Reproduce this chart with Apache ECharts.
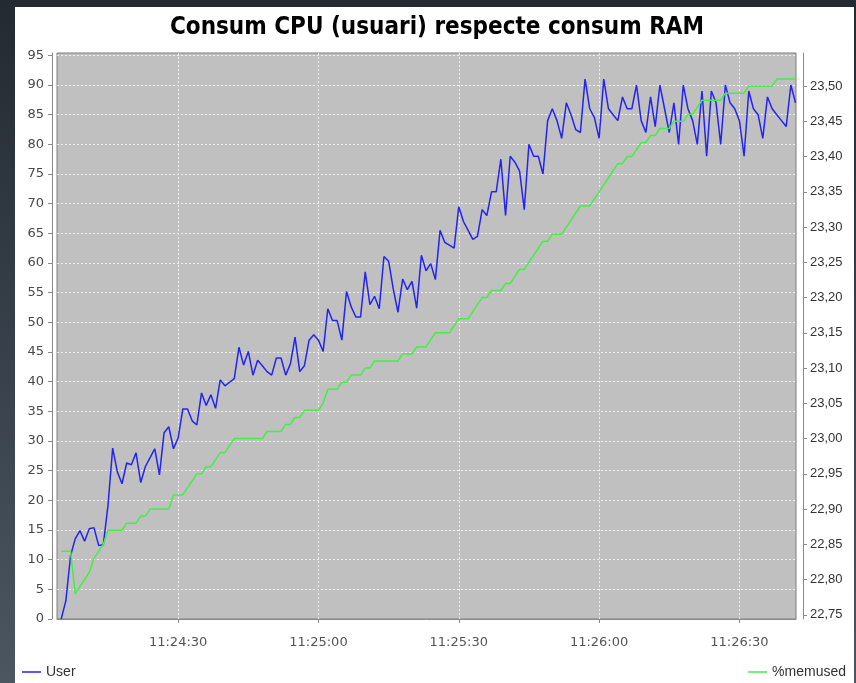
<!DOCTYPE html>
<html>
<head>
<meta charset="utf-8">
<script src="https://cdn.jsdelivr.net/npm/echarts@6/dist/echarts.min.js"></script>
<style>
  html, body { margin: 0; padding: 0; }
  body {
    width: 856px; height: 683px; overflow: hidden; position: relative;
    background: linear-gradient(to bottom, #232a32, #4b5661);
  }
  #panel { position: absolute; left: 15px; top: 7px; width: 839px; height: 676px; background: #fff; }
  #chart { position: absolute; left: 0; top: 0; width: 856px; height: 683px; }
</style>
</head>
<body>
<div id="panel"></div>
<div id="chart"></div>
<script>
// muestreo cada segundo desde las 11:24:05
const startSec = 11 * 3600 + 24 * 60 + 5;
const timeTicks = ["11:24:30", "11:25:00", "11:25:30", "11:26:00", "11:26:30"];
const cpuTicks = [0, 5, 10, 15, 20, 25, 30, 35, 40, 45, 50, 55, 60, 65, 70, 75, 80, 85, 90, 95];
const ramTicks = [22.75, 22.8, 22.85, 22.9, 22.95, 23.0, 23.05, 23.1, 23.15, 23.2,
  23.25, 23.3, 23.35, 23.4, 23.45, 23.5];

// %user
const userValues = [
  0, 3.1, 10.7, 13.5, 14.9, 13.1, 15.2, 15.4, 12.4, 12.5,
  19.1, 28.8, 24.8, 22.8, 26.3, 26.0, 28.0, 23.0, 25.7, 27.2,
  28.7, 24.3, 31.4, 32.4, 28.7, 30.5, 35.4, 35.4, 33.4, 32.7,
  38.1, 36.0, 37.8, 35.5, 40.3, 39.3, 39.9, 40.5, 45.8, 42.8,
  45.1, 41.1, 43.6, 42.7, 41.7, 41.1, 44.0, 44.0, 41.1, 43.0,
  47.5, 41.7, 42.7, 47.0, 47.9, 47.0, 45.1, 52.3, 50.3, 50.3,
  47.0, 55.2, 52.6, 50.9, 50.9, 58.5, 53.0, 54.4, 52.3, 61.1,
  60.3, 55.6, 51.7, 57.3, 55.5, 56.9, 52.4, 61.3, 58.7, 59.9,
  57.2, 65.5, 63.5, 63.0, 62.5, 69.5, 67.0, 65.5, 64.0, 64.5,
  69.0, 68.0, 72.0, 72.0, 77.5, 68.0, 78.0, 77.0, 75.5, 69.0,
  80.0, 78.0, 78.0, 75.0, 84.0, 86.0, 84.0, 81.0, 87.0, 85.0,
  82.5, 82.0, 91.0, 86.0, 84.5, 81.0, 91.0, 86.0, 85.0, 84.0,
  88.0, 86.0, 86.0, 90.0, 84.0, 82.0, 88.0, 83.0, 90.0, 86.0,
  82.0, 87.0, 80.0, 90.0, 86.0, 84.0, 80.0, 89.0, 78.0, 89.0,
  87.0, 80.0, 90.0, 87.0, 86.0, 84.0, 78.0, 89.0, 86.0, 85.0,
  81.0, 88.0, 86.0, 85.0, 84.0, 83.0, 90.0, 87.0
];

// %memused
const memValues = [
  22.84, 22.84, 22.84, 22.78, 22.79, 22.80, 22.81, 22.83, 22.84, 22.85,
  22.87, 22.87, 22.87, 22.87, 22.88, 22.88, 22.88, 22.89, 22.89, 22.90,
  22.90, 22.90, 22.90, 22.90, 22.92, 22.92, 22.92, 22.93, 22.94, 22.95,
  22.95, 22.96, 22.96, 22.97, 22.98, 22.98, 22.99, 23.00, 23.00, 23.00,
  23.00, 23.00, 23.00, 23.00, 23.01, 23.01, 23.01, 23.01, 23.02, 23.02,
  23.03, 23.03, 23.04, 23.04, 23.04, 23.04, 23.05, 23.07, 23.07, 23.07,
  23.08, 23.08, 23.09, 23.09, 23.09, 23.10, 23.10, 23.11, 23.11, 23.11,
  23.11, 23.11, 23.11, 23.12, 23.12, 23.12, 23.13, 23.13, 23.13, 23.14,
  23.15, 23.15, 23.15, 23.15, 23.16, 23.17, 23.17, 23.17, 23.18, 23.19,
  23.20, 23.20, 23.21, 23.21, 23.21, 23.22, 23.22, 23.23, 23.24, 23.24,
  23.25, 23.26, 23.27, 23.28, 23.28, 23.29, 23.29, 23.29, 23.30, 23.31,
  23.32, 23.33, 23.33, 23.33, 23.34, 23.35, 23.36, 23.37, 23.38, 23.39,
  23.39, 23.40, 23.40, 23.41, 23.42, 23.42, 23.43, 23.43, 23.44, 23.44,
  23.44, 23.45, 23.45, 23.45, 23.46, 23.46, 23.47, 23.48, 23.48, 23.48,
  23.48, 23.48, 23.49, 23.49, 23.49, 23.49, 23.49, 23.50, 23.50, 23.50,
  23.50, 23.50, 23.50, 23.51, 23.51, 23.51, 23.51, 23.51
];

function toSec(s) {
  const p = s.split(":").map(Number);
  return p[0] * 3600 + p[1] * 60 + p[2];
}
function pad(n) { return (n < 10 ? "0" : "") + n; }
function fmtTime(v) {
  v = Math.round(v);
  return pad(Math.floor(v / 3600)) + ":" + pad(Math.floor(v / 60) % 60) + ":" + pad(v % 60);
}

const userData = userValues.map((v, i) => [startSec + i, v]);
const memData = memValues.map((v, i) => [startSec + i, v]);

const chart = echarts.init(document.getElementById("chart"), null, { renderer: "canvas" });
const axisGrey = "#8a8a8a";
const gridLine = { show: true, lineStyle: { color: "rgba(255,255,255,0.75)", type: [2, 2], width: 1 } };

chart.setOption({
  animation: false,
  backgroundColor: "transparent",
  title: {
    text: "Consum CPU (usuari) respecte consum RAM",
    left: 432,
    top: 11,
    textAlign: "center",
    textStyle: { fontFamily: "DejaVu Sans Condensed", fontWeight: "bold", fontSize: 24, color: "#000" }
  },
  legend: [
    {
      data: ["User"], left: 17, top: 660, icon: "rect", itemWidth: 19, itemHeight: 1.5, itemGap: 4,
      textStyle: { fontFamily: "Liberation Sans", fontSize: 14, color: "#333" }
    },
    {
      data: ["%memused"], right: 5, top: 660, icon: "rect", itemWidth: 19, itemHeight: 1.5,
      textStyle: { fontFamily: "Liberation Sans", fontSize: 14, color: "#333" }
    }
  ],
  grid: {
    left: 57, right: 60, top: 53, bottom: 64,
    show: true, backgroundColor: "#c0c0c0", borderColor: "#7f7f7f", borderWidth: 1
  },
  xAxis: {
    type: "value",
    min: startSec - 0.9,
    max: startSec + 157.1,
    offset: 5,
    axisLine: { lineStyle: { color: axisGrey } },
    axisTick: { length: 4, lineStyle: { color: axisGrey }, customValues: timeTicks.map(toSec) },
    axisLabel: {
      customValues: timeTicks.map(toSec), formatter: fmtTime, margin: 12,
      fontFamily: "DejaVu Sans", fontSize: 13, color: "#555"
    },
    splitLine: gridLine
  },
  yAxis: [
    {
      type: "value", min: 0, max: 95.4, offset: 5,
      axisLine: { show: true, lineStyle: { color: axisGrey } },
      axisTick: { show: true, length: 4, lineStyle: { color: axisGrey }, customValues: cpuTicks },
      axisLabel: { customValues: cpuTicks, margin: 8, fontFamily: "DejaVu Sans", fontSize: 13, color: "#4a4a4a" },
      splitLine: gridLine
    },
    {
      type: "value", min: 22.744, max: 23.547, offset: 7, position: "right",
      axisLine: { show: true, lineStyle: { color: axisGrey } },
      axisTick: { show: true, length: 4, lineStyle: { color: axisGrey }, customValues: ramTicks },
      axisLabel: {
        customValues: ramTicks, margin: 7, fontFamily: "Liberation Sans", fontSize: 13, color: "#333",
        formatter: v => v.toFixed(2).replace(".", ",")
      },
      splitLine: { show: false }
    }
  ],
  series: [
    {
      name: "User", type: "line", yAxisIndex: 0, data: userData, showSymbol: false,
      lineStyle: { color: "#2424f0", width: 1.5 }, itemStyle: { color: "#2424f0" }
    },
    {
      name: "%memused", type: "line", yAxisIndex: 1, data: memData, showSymbol: false,
      lineStyle: { color: "#44ee44", width: 1.5 }, itemStyle: { color: "#44ee44" }
    }
  ]
});
</script>
</body>
</html>
